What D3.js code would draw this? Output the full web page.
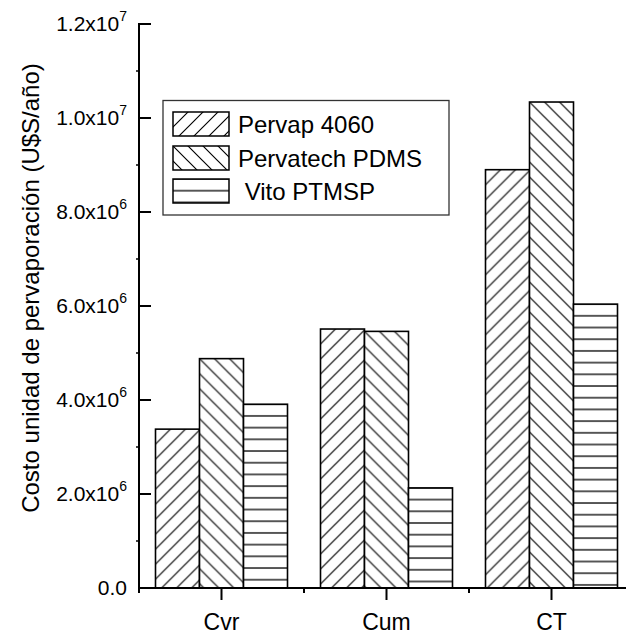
<!DOCTYPE html>
<html><head><meta charset="utf-8">
<script src="https://cdn.jsdelivr.net/npm/d3@7/dist/d3.min.js"></script>
<style>body{margin:0;background:#fff}svg{display:block;font-family:"Liberation Sans",Arial,sans-serif}</style>
</head><body>
<script>
const categories = ["Cvr", "Cum", "CT"];
const seriesNames = ["Pervap 4060", "Pervatech PDMS", " Vito PTMSP"];
const pervap = [3.38e6, 5.51e6, 8.90e6];
const pervatech = [4.88e6, 5.46e6, 10.34e6];
const vito = [3.91e6, 2.13e6, 6.04e6];
const yTicks = [0, 2e6, 4e6, 6e6, 8e6, 1e7, 1.2e7];
const yTickLabels = [["0.0",""],["2.0x10","6"],["4.0x10","6"],["6.0x10","6"],["8.0x10","6"],["1.0x10","7"],["1.2x10","7"]];
const yMinor = [1e6, 3e6, 5e6, 7e6, 9e6, 1.1e7];
const series = [pervap, pervatech, vito];
const hatch = ["fwd", "back", "horiz"];

const W = 626, H = 637;
const svg = d3.select("body").append("svg").attr("width", W).attr("height", H);
const defs = svg.append("defs");

const x = d3.scaleLinear().domain([0.5, 3.5]).range([139, 634]);
const y = d3.scaleLinear().domain([0, 1.2e7]).range([588, 24]);
const barW = 44;

function makePattern(id, type, ox, oy) {
  let p;
  if (type === "horiz") {
    const s = 11.7;
    p = defs.append("pattern").attr("id", id).attr("patternUnits", "userSpaceOnUse")
      .attr("x", ox).attr("y", oy).attr("width", 20).attr("height", s);
    p.append("line").attr("x1", 0).attr("x2", 20).attr("y1", 0).attr("y2", 0)
      .attr("stroke", "#000").attr("stroke-width", 1.3);
    p.append("line").attr("x1", 0).attr("x2", 20).attr("y1", s).attr("y2", s)
      .attr("stroke", "#000").attr("stroke-width", 1.3);
  } else {
    const s = 15;
    p = defs.append("pattern").attr("id", id).attr("patternUnits", "userSpaceOnUse")
      .attr("x", ox).attr("y", oy).attr("width", s).attr("height", s);
    const d = type === "fwd"
      ? `M0,${s} L${s},0 M${-s/2},${s/2} L${s/2},${-s/2} M${s/2},${1.5*s} L${1.5*s},${s/2}`
      : `M0,0 L${s},${s} M${-s/2},${s/2} L${s/2},${1.5*s} M${s/2},${-s/2} L${1.5*s},${s/2}`;
    p.append("path").attr("d", d).attr("stroke", "#000").attr("stroke-width", 1.15).attr("fill", "none");
  }
}

// bars
const g = svg.append("g");
series.forEach((vals, si) => {
  vals.forEach((v, ci) => {
    const cx = x(ci + 1);
    const bx = cx - 1.5 * barW + si * barW;
    const by = y(v);
    const id = `pat-${si}-${ci}`;
    makePattern(id, hatch[si], bx, by);
    g.append("rect").attr("x", bx).attr("y", by).attr("width", barW).attr("height", y(0) - by)
      .attr("fill", "#fff");
    g.append("rect").attr("x", bx).attr("y", by).attr("width", barW).attr("height", y(0) - by)
      .attr("fill", `url(#${id})`).attr("stroke", "#000").attr("stroke-width", 1.6);
  });
});

// y axis
const ax = svg.append("g");
ax.append("line").attr("x1", x(0.5)).attr("x2", x(0.5)).attr("y1", y(1.2e7) - 1).attr("y2", y(0) + 1)
  .attr("stroke", "#000").attr("stroke-width", 2);
yTicks.forEach((t, i) => {
  ax.append("line").attr("x1", x(0.5)).attr("x2", x(0.5) + 12).attr("y1", y(t)).attr("y2", y(t))
    .attr("stroke", "#000").attr("stroke-width", 2);
  const tx = ax.append("text").attr("x", 127).attr("y", y(t) + 7).attr("text-anchor", "end")
    .attr("font-size", 21).attr("fill", "#000");
  tx.append("tspan").text(yTickLabels[i][0]);
  if (yTickLabels[i][1]) {
    tx.append("tspan").attr("dy", -10).attr("font-size", 14).text(yTickLabels[i][1]);
  }
});
yMinor.forEach(t => {
  ax.append("line").attr("x1", x(0.5) - 3).attr("x2", x(0.5)).attr("y1", y(t)).attr("y2", y(t))
    .attr("stroke", "#000").attr("stroke-width", 1.5);
});

// x axis
ax.append("line").attr("x1", x(0.5) - 1).attr("x2", W).attr("y1", y(0)).attr("y2", y(0))
  .attr("stroke", "#000").attr("stroke-width", 2);
categories.forEach((c, i) => {
  ax.append("line").attr("x1", x(i + 1)).attr("x2", x(i + 1)).attr("y1", y(0)).attr("y2", y(0) + 12)
    .attr("stroke", "#000").attr("stroke-width", 2);
  ax.append("text").attr("x", x(i + 1)).attr("y", 630).attr("text-anchor", "middle")
    .attr("font-size", 23).attr("fill", "#000").text(c);
});
[0.5, 1.5, 2.5, 3.5].forEach(t => {
  ax.append("line").attr("x1", x(t)).attr("x2", x(t)).attr("y1", y(0)).attr("y2", y(0) + 5)
    .attr("stroke", "#000").attr("stroke-width", 2);
});

// y title
svg.append("text").attr("transform", "translate(39,288) rotate(-90)").attr("text-anchor", "middle")
  .attr("font-size", 24).attr("fill", "#000").text("Costo unidad de pervaporación (U$S/año)");

// legend
const lg = svg.append("g");
lg.append("rect").attr("x", 163).attr("y", 100.5).attr("width", 286).attr("height", 114.5)
  .attr("fill", "#fff").attr("stroke", "#333").attr("stroke-width", 1.3);
const rowsY = [112, 146, 179];
seriesNames.forEach((n, i) => {
  const id = `lpat-${i}`;
  makePattern(id, hatch[i], 173, rowsY[i]);
  lg.append("rect").attr("x", 173).attr("y", rowsY[i]).attr("width", 56).attr("height", 24)
    .attr("fill", `url(#${id})`).attr("stroke", "#000").attr("stroke-width", 1.5);
  lg.append("text").attr("x", 238).attr("y", rowsY[i] + 21).attr("font-size", 24).attr("fill", "#000")
    .attr("xml:space", "preserve").style("white-space", "pre").text(n);
});
</script>
</body></html>
